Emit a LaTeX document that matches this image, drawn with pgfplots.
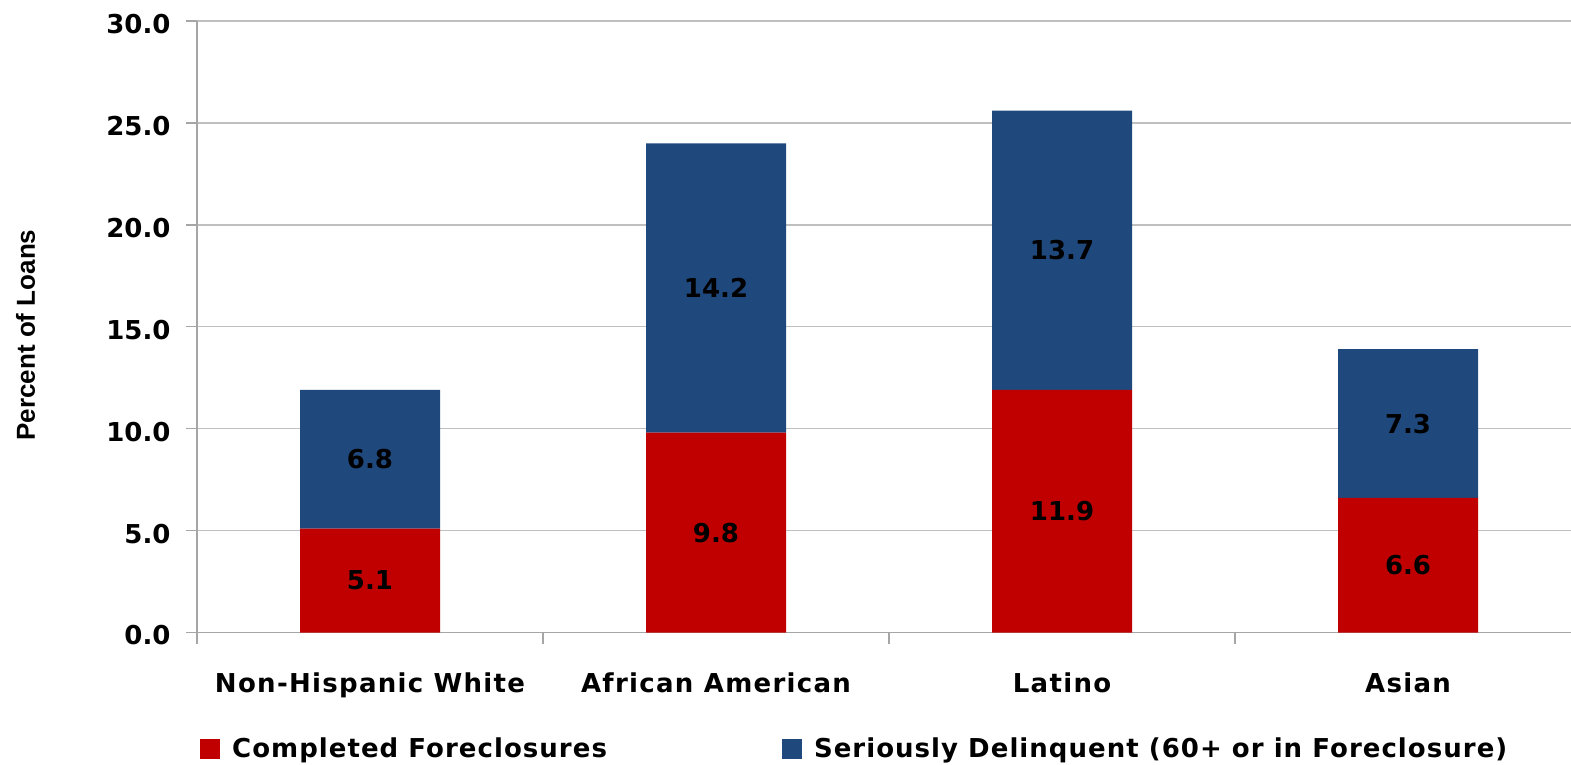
\documentclass[border=0pt]{standalone}
\usepackage{fontspec}
\setmainfont{DejaVu Sans}
\newfontfamily\widefont{DejaVu Sans}[LetterSpace=5]
\newfontfamily\legfont{DejaVu Sans}[LetterSpace=4]
\newfontfamily\ylabfont{Liberation Sans}
\usepackage{pgfplots}
\usepackage{pgfplotstable}
\pgfplotsset{compat=1.18}

\definecolor{foreclosed}{HTML}{C00000}
\definecolor{delinquent}{HTML}{1F497D}
\definecolor{gridgray}{HTML}{BFBFBF}
\definecolor{axisgray}{HTML}{A6A6A6}

% Share of loans by borrower group, in percent
\pgfplotstableread{
x completed delinquent
0 5.1 6.8
1 9.8 14.2
2 11.9 13.7
3 6.6 7.3
}\loanstable

\begin{document}
\begin{tikzpicture}[font=\fontsize{26bp}{31bp}\selectfont\bfseries]
\path[use as bounding box] (0,0) rectangle (1571bp,765bp);
\begin{axis}[
  at={(197bp,132.5bp)}, anchor=south west,
  scale only axis, width=1374bp, height=611.5bp,
  ybar stacked, bar width=140bp,
  xmin=-0.5, xmax=3.471, ymin=0, ymax=30,
  axis x line*=bottom, axis y line*=left,
  axis line style={-, draw=axisgray, line width=1.5bp},
  ytick={0,5,...,30},
  ymajorgrids, grid style={draw=gridgray, line width=1.5bp},
  tick align=outside, major tick length=11bp,
  tick style={draw=axisgray, line width=1.5bp},
  /pgf/number format/assume math mode=true,
  yticklabel style={/pgf/number format/fixed, /pgf/number format/fixed zerofill,
    /pgf/number format/precision=1, xshift=-12bp, yshift=-3bp},
  xtick={-0.5,0.5,1.5,2.5}, xticklabels={},
  extra x ticks={0,1,2,3},
  extra x tick labels={Non-Hispanic White, African American, Latino, Asian},
  extra x tick style={major tick length=0pt, grid=none,
    xticklabel style={anchor=base, yshift=-59.5bp, font=\fontsize{26bp}{31bp}\selectfont\widefont\bfseries}},
  ylabel={\ylabfont\bfseries Percent of Loans},
  ylabel style={at={(axis description cs:-0.1179,0.4865)}, anchor=base,
    font=\fontsize{26bp}{31bp}\selectfont},
  % each segment is labelled with its own value, centred in the segment
  visualization depends on=rawy \as \rawy,
  nodes near coords={\pgfmathprintnumber[fixed,fixed zerofill,precision=1]{\rawy}},
  nodes near coords align={center},
  every node near coord/.append style={anchor=center, text=black},
  legend columns=2,
  legend style={at={(axis description cs:0,-0.19)}, anchor=west,
    draw=none, fill=none, font=\fontsize{26bp}{31bp}\selectfont\legfont\bfseries,
    /tikz/every odd column/.append style={column sep=10bp},
    /tikz/every even column/.append style={column sep=173bp}},
]
\addplot[fill=foreclosed, draw=none,
  legend image code/.code={\fill[foreclosed] (0bp,-10bp) rectangle (20bp,10bp);}]
  table[x=x, y=completed] {\loanstable};
\addlegendentry{Completed Foreclosures}
\addplot[fill=delinquent, draw=none,
  legend image code/.code={\fill[delinquent] (0bp,-10bp) rectangle (20bp,10bp);}]
  table[x=x, y=delinquent] {\loanstable};
\addlegendentry{Seriously Delinquent (60+ or in Foreclosure)}
\end{axis}
\end{tikzpicture}
\end{document}
